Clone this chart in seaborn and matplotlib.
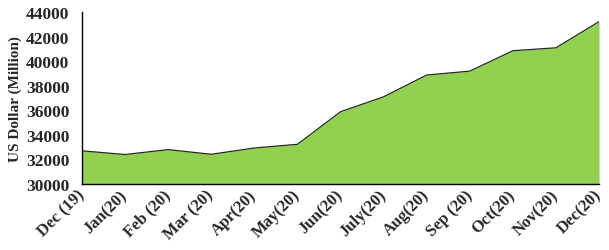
import matplotlib
matplotlib.use("Agg")
import matplotlib.pyplot as plt
import seaborn as sns
import pandas as pd

months = ["Dec (19)", "Jan(20)", "Feb (20)", "Mar (20)", "Apr(20)", "May(20)", "Jun(20)",
          "July(20)", "Aug(20)", "Sep (20)", "Oct(20)", "Nov(20)", "Dec(20)"]
values = [32700, 32400, 32800, 32420, 32930, 33230, 35880, 37100, 38870, 39190, 40850, 41090, 43220]
yticks = [30000, 32000, 34000, 36000, 38000, 40000, 42000, 44000]

sns.set_style("white")
plt.rcParams['font.family'] = ['Liberation Serif', 'DejaVu Serif']

df = pd.DataFrame({"idx": range(len(months)), "value": values})

fig = plt.figure(figsize=(6.09, 2.51), dpi=100)
ax = fig.add_axes([0.1346, 0.263, 0.849, 0.685])
ax.fill_between(df["idx"], df["value"], 30000, color="#92D050", linewidth=0)
sns.lineplot(data=df, x="idx", y="value", ax=ax, color="#262626", linewidth=0.9)

ax.set_xlim(0, len(months) - 1)
ax.set_ylim(30000, 44000)
ax.set_yticks(yticks)
ax.set_yticklabels([str(v) for v in yticks], fontsize=12.5, fontweight="bold")
ax.set_xticks(range(len(months)))
ax.set_xticklabels(months, rotation=45, ha="right", va="center", rotation_mode="anchor",
                   fontsize=12, fontweight="bold")
ax.set_xlabel("")
ax.set_ylabel("US Dollar (Million)", fontsize=11, fontweight="bold", labelpad=3)
ax.tick_params(axis="y", length=0, pad=9)
ax.tick_params(axis="x", length=0, pad=6)
for s in ["top", "right"]:
    ax.spines[s].set_visible(False)
for s in ["left", "bottom"]:
    ax.spines[s].set_color("black")
    ax.spines[s].set_linewidth(1.0)

fig.savefig("out.png", dpi=100)
